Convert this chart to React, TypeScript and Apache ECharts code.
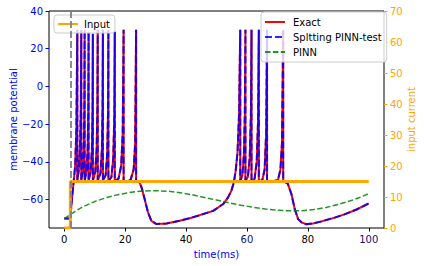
import React, { useEffect, useRef } from 'react';
import * as echarts from 'echarts';

// [time (ms), membrane potential]
const exactTrace: number[][] = [
  [0, -70], [2, -70], [2.4, -62], [3.0, -52], [3.6, -42], [4.0, -22], [4.3, 30],
  [4.3, -50], [4.8, -44], [5.2, -32], [5.45, -12], [5.6, 30],
  [5.6, -50], [6.1, -44], [6.45, -30], [6.6, -12], [6.7, 30],
  [6.7, -50], [7.3, -45], [7.7, -33], [7.9, -12], [8.0, 29],
  [8.0, -50], [8.7, -45], [9.1, -33], [9.3, -12], [9.4, 28],
  [9.4, -50], [10.2, -45], [10.65, -33], [10.88, -12], [11.0, 30],
  [11.0, -50], [11.9, -46], [12.35, -34], [12.58, -12], [12.7, 30],
  [12.7, -50], [13.6, -47], [14.1, -36], [14.38, -14], [14.5, 30],
  [14.5, -50], [15.5, -48], [16.1, -38], [16.45, -15], [16.6, 29],
  [16.6, -50], [17.8, -49], [18.7, -42], [19.2, -25], [19.5, 30],
  [19.5, -50], [20.5, -50.5], [21.8, -49.5], [22.8, -44], [23.3, -30], [23.6, 30],
  [23.6, -50], [24.6, -50.5], [25.4, -53.5], [26.4, -59.6], [27.5, -66.7], [28.6, -71.2],
  [30.3, -72.9], [33.6, -72.6], [37.9, -71.2], [41.2, -69.8], [44.5, -68.2], [48.9, -65.9],
  [52.2, -62.3], [53.8, -58.8], [54.9, -55.2], [55.7, -50.8], [56.3, -44.6], [56.9, -35],
  [57.4, -15], [57.8, 30],
  [57.8, -50], [58.5, -47], [59.0, -36], [59.3, -15], [59.5, 30],
  [59.5, -50], [60.3, -48], [60.9, -38], [61.3, -15], [61.5, 30],
  [61.5, -50], [62.5, -49], [63.2, -40], [63.65, -18], [63.9, 30],
  [63.9, -50], [65.0, -50], [65.8, -44], [66.3, -25], [66.6, 30],
  [66.6, -50], [68.0, -50.5], [70.2, -49.5], [71.0, -44], [71.5, -30], [71.9, 30],
  [71.9, -50], [73.4, -51.5], [74.6, -57], [75.7, -65], [76.8, -70.3], [77.9, -72],
  [79.5, -73], [81.7, -72.6], [84.5, -71.5], [88.8, -69.5], [92, -67.8], [96, -65.2], [100, -62],
];

// Splitting PINN overlays the exact solution
const splittingTrace: number[][] = exactTrace;

const pinnTrace: number[][] = [
  [0, -70], [3, -66.8], [6, -63.8], [10, -61], [14, -58.8], [18, -57.2], [22, -56],
  [26, -55.4], [30, -55.2], [34, -55.5], [38, -56.3], [42, -57.4], [46, -58.8],
  [50, -60.2], [54, -61.6], [58, -62.9], [62, -64], [66, -64.9], [70, -65.6],
  [74, -65.9], [78, -65.8], [82, -65.2], [86, -64.1], [90, -62.5], [94, -60.6],
  [97, -58.8], [100, -56.8],
];

// [time (ms), input current]
const inputTrace: number[][] = [[0, 0], [2, 0], [2, 15], [100, 15]];

const stimulusOnset = 2;

const xTicks = [0, 20, 40, 60, 80, 100];
const leftTicks = [-60, -40, -20, 0, 20, 40];

const FONT = 'DejaVu Sans';
const minus = (v: number) => String(v).replace('-', '\u2212');

const legendBase = {
  orient: 'vertical',
  itemWidth: 20, itemHeight: 10, itemGap: 3,
  backgroundColor: 'rgba(255,255,255,0.8)',
  borderColor: '#cccccc', borderWidth: 1, borderRadius: 3,
  itemStyle: { opacity: 0 },
};

export default function App() {
  const ref = useRef<HTMLDivElement>(null);
  useEffect(() => {
    const chart = echarts.init(ref.current!, null, { renderer: 'svg' });
    chart.setOption({
      animation: false,
      textStyle: { fontFamily: FONT },
      grid: {
        left: 49, top: 11, width: 335, height: 217,
        outerBoundsMode: 'none', containLabel: false,
        show: true, borderColor: '#000', borderWidth: 1, backgroundColor: 'transparent',
      },
      legend: [
        {
          ...legendBase,
          data: ['Input'],
          left: 54, top: 15,
          padding: [3, 5, 3, 3],
          textStyle: { fontFamily: FONT, fontSize: 10, color: '#000', lineHeight: 12, padding: [0, 0, 0, 1] },
        },
        {
          ...legendBase,
          data: ['Exact', 'Spltting PINN-test', 'PINN'],
          left: 261, top: 12,
          padding: [4, 5, 4, 3],
          textStyle: { fontFamily: FONT, fontSize: 10, color: '#000', lineHeight: 12, padding: [0, 0, 0, 3] },
        },
      ],
      xAxis: {
        type: 'value', min: -5, max: 105,
        name: 'time(ms)', nameLocation: 'middle', nameGap: 21, nameMoveOverlap: false,
        nameTextStyle: { color: '#0000ff', fontSize: 10, fontFamily: FONT },
        axisLine: { show: false, onZero: false },
        axisTick: { show: true, length: 3.5, customValues: xTicks, lineStyle: { color: '#000' } },
        axisLabel: {
          customValues: xTicks, margin: 6, fontSize: 10, fontFamily: FONT,
          color: (v: any) => (Number(v) === 60 || Number(v) === 100 ? '#10107a' : '#000'),
        },
        splitLine: { show: false },
      },
      yAxis: [
        {
          type: 'value', min: -75, max: 40, position: 'left',
          name: 'membrane potential', nameLocation: 'middle', nameGap: 31, nameRotate: 90, nameMoveOverlap: false,
          nameTextStyle: { color: '#0000ff', fontSize: 10, fontFamily: FONT },
          axisLine: { show: false, onZero: false },
          axisTick: { show: true, length: 3.5, customValues: leftTicks, lineStyle: { color: '#0000ff' } },
          axisLabel: { customValues: leftTicks, margin: 6, fontSize: 10, fontFamily: FONT, color: '#0000ff', formatter: (v: number) => minus(v) },
          splitLine: { show: false },
        },
        {
          type: 'value', min: 0, max: 70, interval: 10, position: 'right',
          name: 'input current', nameLocation: 'middle', nameGap: 22, nameRotate: 90, nameMoveOverlap: false,
          nameTextStyle: { color: '#ffa500', fontSize: 10, fontFamily: FONT },
          axisLine: { show: false, onZero: false },
          axisTick: { show: true, length: 3.5, lineStyle: { color: '#ffa500' } },
          axisLabel: { margin: 6, fontSize: 10, fontFamily: FONT, color: '#ffa500' },
          splitLine: { show: false },
        },
      ],
      series: [
        {
          name: 'Exact', type: 'line', yAxisIndex: 0, data: exactTrace,
          symbol: 'none', color: '#ff0000',
          lineStyle: { color: '#ff0000', width: 2 },
          markLine: {
            silent: true, symbol: 'none', label: { show: false },
            lineStyle: { color: '#808080', width: 1.8, type: [7, 3] },
            data: [{ xAxis: stimulusOnset }],
          },
        },
        {
          name: 'Spltting PINN-test', type: 'line', yAxisIndex: 0, data: splittingTrace,
          symbol: 'none', color: '#0000ff',
          lineStyle: { color: '#0000ff', width: 2, type: [7, 3], opacity: 0.85 },
        },
        {
          name: 'PINN', type: 'line', yAxisIndex: 0, data: pinnTrace,
          symbol: 'none', color: '#008000',
          lineStyle: { color: '#008000', width: 1.5, type: [5.5, 2.4], opacity: 0.85 },
        },
        {
          name: 'Input', type: 'line', yAxisIndex: 1, data: inputTrace,
          symbol: 'none', color: '#ffa500',
          lineStyle: { color: '#ffa500', width: 3 },
        },
      ],
    });
    return () => chart.dispose();
  }, []);
  return <div ref={ref} style={{ position: 'absolute', left: 0, top: 0, width: 424, height: 266 }} />;
}
